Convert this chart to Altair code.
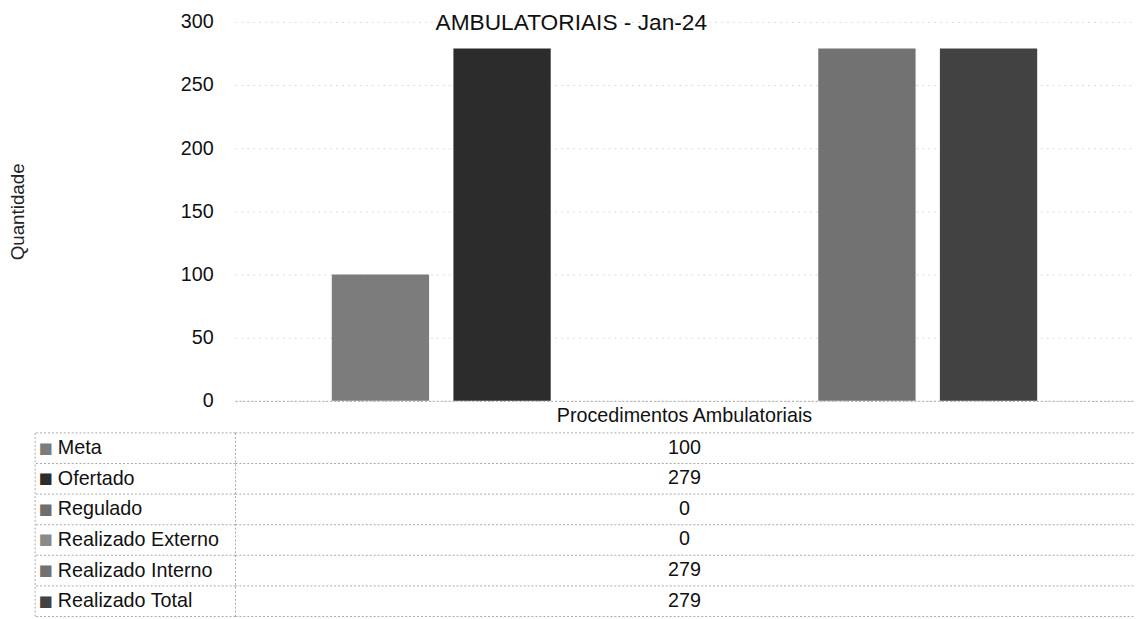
import json
import altair as alt
import pandas as pd

# ---- data ----
category = "Procedimentos Ambulatoriais"
series = ["Meta", "Ofertado", "Regulado", "Realizado Externo", "Realizado Interno", "Realizado Total"]
values = [100, 279, 0, 0, 279, 279]
bar_colors = ["#7c7c7c", "#2c2c2c", "#6e6e6e", "#8a8a8a", "#727272", "#424242"]
y_ticks = [0, 50, 100, 150, 200, 250, 300]
title_text = "AMBULATORIAIS - Jan-24"

FONT = "Liberation Sans"
LINE = "#a8a8a8"

df = pd.DataFrame({
    "categoria": [category] * len(series),
    "serie": series,
    "valor": values,
    "rotulo": [str(v) for v in values],
})

x_scale = alt.Scale(paddingInner=0, paddingOuter=0.116)

bars = alt.Chart(df).mark_bar().encode(
    x=alt.X("categoria:N", title=None, scale=x_scale,
            axis=alt.Axis(labelFontSize=20, labelFont=FONT, labelColor="#111", labelAngle=0,
                          labelLimit=0, ticks=False, tickSize=0, labelPadding=5,
                          domainColor=LINE, domainDash=[2, 2], domainWidth=1)),
    xOffset=alt.XOffset("serie:N", sort=series, scale=alt.Scale(paddingInner=0.2, paddingOuter=0.1)),
    y=alt.Y("valor:Q", title="Quantidade", scale=alt.Scale(domain=[0, 300], nice=False),
            axis=alt.Axis(values=y_ticks, labelFontSize=20, labelFont=FONT, labelColor="#111",
                          ticks=False, tickSize=0, domain=False, labelPadding=22,
                          grid=True, gridColor="#dadada", gridDash=[2, 4],
                          titleFontSize=19, titleFont=FONT, titleFontWeight="normal",
                          titleColor="#222", titlePadding=155)),
    color=alt.Color("serie:N", sort=series, scale=alt.Scale(domain=series, range=bar_colors), legend=None),
).properties(width=911, height=384)

color_expr = f"{json.dumps(bar_colors)}[indexof({json.dumps(series)}, datum.value)]"

values_layer = alt.Chart(df).mark_text(fontSize=20, font=FONT, color="#111").encode(
    x=alt.X("categoria:N", scale=x_scale, axis=None),
    y=alt.Y("serie:N", sort=series, title=None, scale=alt.Scale(paddingInner=0, paddingOuter=0),
            axis=alt.Axis(orient="left", tickBand="extent", grid=True, gridColor=LINE, gridDash=[2, 2],
                          ticks=True, tickSize=203, tickColor=LINE, tickDash=[2, 2],
                          domain=True, domainColor=LINE, domainDash=[2, 2],
                          labelAlign="left", labelPadding=-23, labelFontSize=20, labelFont=FONT,
                          labelColor="#111", labelLimit=0)),
    text="rotulo:N",
)

squares_layer = alt.Chart(df).mark_text(text="").encode(
    y=alt.Y("serie:N", sort=series, title=None,
            axis=alt.Axis(orient="left", offset=203, ticks=False, tickSize=0, grid=False,
                          domain=True, domainColor=LINE, domainDash=[2, 2],
                          labelExpr="'■'", labelAlign="left", labelPadding=-4,
                          labelFontSize=15, labelFont="DejaVu Sans", labelColor={"expr": color_expr})),
)

table = alt.layer(values_layer, squares_layer).resolve_axis(y="independent").properties(width=911, height=186)

chart = alt.vconcat(bars, table, spacing=-3).properties(
    title=alt.TitleParams(title_text, fontSize=23, font=FONT, fontWeight="normal", color="#111",
                          anchor="middle", offset=-23),
    padding=0,
).configure_view(stroke=None)

chart.save("out.html", embed_options={"renderer": "svg", "actions": False})
